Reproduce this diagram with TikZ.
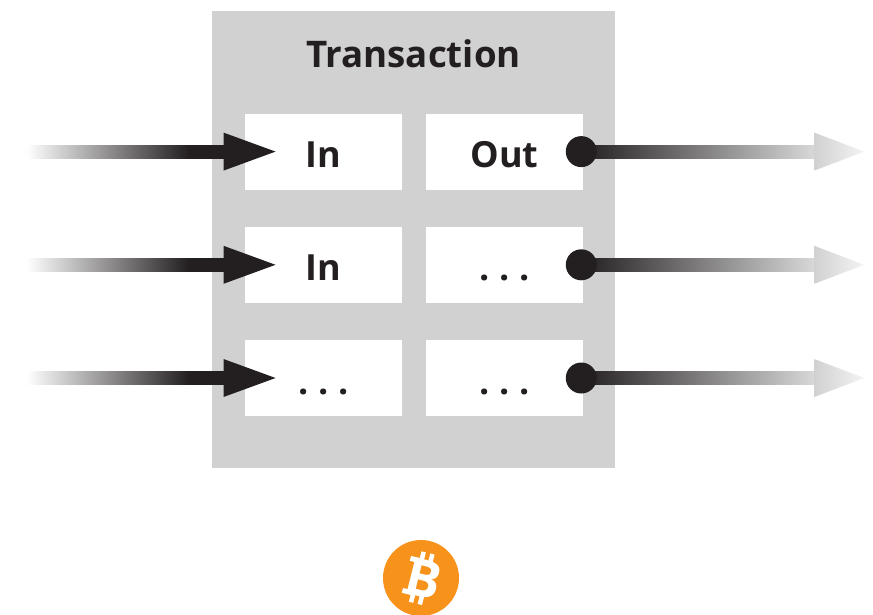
\documentclass[tikz,border=0pt]{standalone}
\usepackage{fontspec}
\setmainfont{Open Sans}
\usepackage{tikz}
\usetikzlibrary{positioning}
\usetikzlibrary{calc}
\definecolor{ink}{HTML}{231F20}
\definecolor{panel}{HTML}{D1D1D1}
\definecolor{coin}{HTML}{F7931A}
\newcommand{\gapdots}{.\hspace{.27em}.\hspace{.27em}.}
\pgfdeclarehorizontalshading{fadein}{100bp}{color(0bp)=(white); color(25bp)=(white); color(66bp)=(ink); color(100bp)=(ink)}
\tikzset{
  cell/.style={fill=white, minimum width=117.75pt, minimum height=57pt, inner sep=0pt,
    text=ink, text height=24pt, text depth=0pt, font=\fontsize{27}{27}\selectfont\bfseries},
  title/.style={text=ink, font=\fontsize{27.5}{27.5}\selectfont\bfseries, inner sep=0pt, anchor=base},
  fadeout/.style={left color=ink, right color=panel!85!white, draw=none},
  fadetip/.style={left color=panel, right color=panel!25!white, draw=none}
}
\begin{document}
\begin{tikzpicture}[x=0.75pt, y=-0.75pt]
  \useasboundingbox (0,0) rectangle (873,614);
  \fill[panel] (212,11) rectangle (615,468);
  \node[title] (title) at (413.5,67) {Transaction};
  \node[cell] (in1) at (323.3,151.6) {In};
  \node[cell, right=17.75pt of in1] (out1) {Out};
  \node[cell, below=27.5pt of in1] (in2) {In};
  \node[cell, right=17.75pt of in2] (out2) {\gapdots};
  \node[cell, below=27.5pt of in2] (in3) {\gapdots};
  \node[cell, right=17.75pt of in3] (out3) {\gapdots};
  % arrows going in and out of each row
  \foreach \row in {1,2,3} {
    \coordinate (start\row) at ($(in\row.west)+(-218,0)$);
    \coordinate (base\row) at ($(in\row.west)+(-21,0)$);
    \coordinate (dot\row) at ($(out\row.east)+(-2,0)$);
    \coordinate (neck\row) at ($(dot\row)+(233,0)$);
    \shade[shading=fadein] ($(start\row)+(0,-6.5)$) rectangle ($(base\row)+(1,6.5)$);
    \fill[ink] ($(base\row)+(0,-19)$) -- ($(base\row)+(52,0)$) -- ($(base\row)+(0,19)$) -- cycle;
    \shade[fadeout] ($(dot\row)+(0,-6.5)$) rectangle ($(neck\row)+(0,6.5)$);
    \shade[fadetip] ($(neck\row)+(0,-19)$) -- ($(neck\row)+(50,0)$) -- ($(neck\row)+(0,19)$) -- cycle;
    \fill[ink] (dot\row) circle (15.5);
  }
  % coin
  \node[circle, fill=coin, minimum size=57pt, inner sep=0pt] (coin) at (421,578) {};
  \begin{scope}[shift={(coin.center)}, rotate=-14]
    \node[text=white, inner sep=0pt, rotate=-14, font=\fontsize{39}{39}\selectfont\bfseries] (letter) at (3,0) {B};
    \fill[white] (-15,-19) rectangle (-4,-14);
    \fill[white] (-15,14) rectangle (-4,19);
    \foreach \bar in {-6,3} {
      \fill[white] (\bar,-26) rectangle ++(4.5,9);
      \fill[white] (\bar,17) rectangle ++(4.5,9);
    }
  \end{scope}
\end{tikzpicture}
\end{document}
